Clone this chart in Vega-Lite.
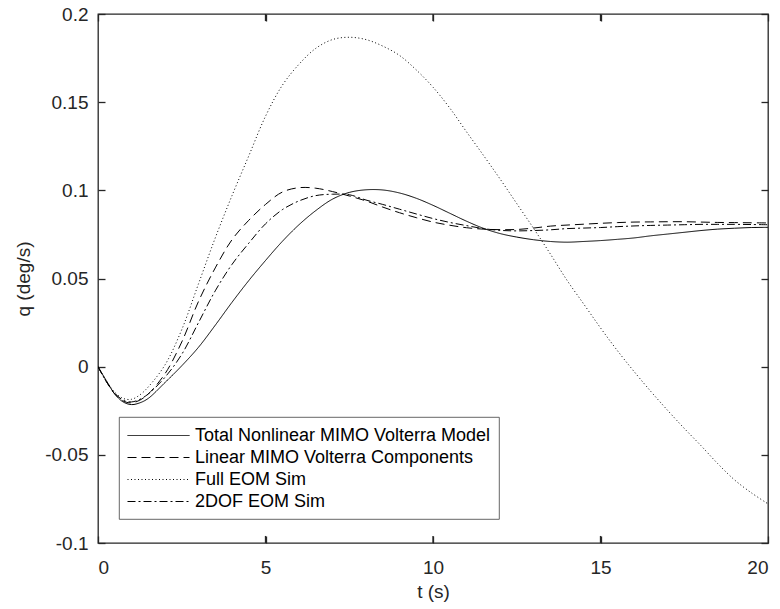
{
  "$schema": "https://vega.github.io/schema/vega-lite/v6.json",
  "width": 670,
  "height": 529,
  "autosize": {"type": "none"},
  "padding": {"left": 98, "top": 14, "right": 12, "bottom": 66},
  "background": "white",
  "datasets": {
    "curves": [
    {"t": 0, "Total Nonlinear MIMO Volterra Model": 0, "Linear MIMO Volterra Components": 0, "Full EOM Sim": 0, "2DOF EOM Sim": 0},
    {"t": 0.25, "Total Nonlinear MIMO Volterra Model": -0.008, "Linear MIMO Volterra Components": -0.0085, "Full EOM Sim": -0.008, "2DOF EOM Sim": -0.0085},
    {"t": 0.5, "Total Nonlinear MIMO Volterra Model": -0.0155, "Linear MIMO Volterra Components": -0.0155, "Full EOM Sim": -0.0145, "2DOF EOM Sim": -0.015},
    {"t": 0.75, "Total Nonlinear MIMO Volterra Model": -0.02, "Linear MIMO Volterra Components": -0.0195, "Full EOM Sim": -0.018, "2DOF EOM Sim": -0.019},
    {"t": 1.0, "Total Nonlinear MIMO Volterra Model": -0.0215, "Linear MIMO Volterra Components": -0.0205, "Full EOM Sim": -0.0185, "2DOF EOM Sim": -0.02},
    {"t": 1.25, "Total Nonlinear MIMO Volterra Model": -0.0205, "Linear MIMO Volterra Components": -0.019, "Full EOM Sim": -0.016, "2DOF EOM Sim": -0.0185},
    {"t": 1.5, "Total Nonlinear MIMO Volterra Model": -0.018, "Linear MIMO Volterra Components": -0.0155, "Full EOM Sim": -0.0115, "2DOF EOM Sim": -0.0155},
    {"t": 2.0, "Total Nonlinear MIMO Volterra Model": -0.009, "Linear MIMO Volterra Components": -0.004, "Full EOM Sim": 0.001, "2DOF EOM Sim": -0.006},
    {"t": 2.5, "Total Nonlinear MIMO Volterra Model": 0.0005, "Linear MIMO Volterra Components": 0.014, "Full EOM Sim": 0.021, "2DOF EOM Sim": 0.007},
    {"t": 3.0, "Total Nonlinear MIMO Volterra Model": 0.0110, "Linear MIMO Volterra Components": 0.037, "Full EOM Sim": 0.047, "2DOF EOM Sim": 0.025},
    {"t": 3.5, "Total Nonlinear MIMO Volterra Model": 0.0235, "Linear MIMO Volterra Components": 0.056, "Full EOM Sim": 0.073, "2DOF EOM Sim": 0.043},
    {"t": 4.0, "Total Nonlinear MIMO Volterra Model": 0.0365, "Linear MIMO Volterra Components": 0.072, "Full EOM Sim": 0.097, "2DOF EOM Sim": 0.058},
    {"t": 4.5, "Total Nonlinear MIMO Volterra Model": 0.0488, "Linear MIMO Volterra Components": 0.083, "Full EOM Sim": 0.1195, "2DOF EOM Sim": 0.07},
    {"t": 5.0, "Total Nonlinear MIMO Volterra Model": 0.0602, "Linear MIMO Volterra Components": 0.092, "Full EOM Sim": 0.142, "2DOF EOM Sim": 0.081},
    {"t": 5.5, "Total Nonlinear MIMO Volterra Model": 0.0710, "Linear MIMO Volterra Components": 0.099, "Full EOM Sim": 0.1595, "2DOF EOM Sim": 0.089},
    {"t": 6.0, "Total Nonlinear MIMO Volterra Model": 0.0805, "Linear MIMO Volterra Components": 0.1015, "Full EOM Sim": 0.1715, "2DOF EOM Sim": 0.094},
    {"t": 6.5, "Total Nonlinear MIMO Volterra Model": 0.0885, "Linear MIMO Volterra Components": 0.1012, "Full EOM Sim": 0.1805, "2DOF EOM Sim": 0.097},
    {"t": 7.0, "Total Nonlinear MIMO Volterra Model": 0.0950, "Linear MIMO Volterra Components": 0.0993, "Full EOM Sim": 0.1855, "2DOF EOM Sim": 0.0978},
    {"t": 7.5, "Total Nonlinear MIMO Volterra Model": 0.0988, "Linear MIMO Volterra Components": 0.0968, "Full EOM Sim": 0.1868, "2DOF EOM Sim": 0.0975},
    {"t": 8.0, "Total Nonlinear MIMO Volterra Model": 0.1003, "Linear MIMO Volterra Components": 0.094, "Full EOM Sim": 0.1855, "2DOF EOM Sim": 0.0945},
    {"t": 8.5, "Total Nonlinear MIMO Volterra Model": 0.1002, "Linear MIMO Volterra Components": 0.0905, "Full EOM Sim": 0.1818, "2DOF EOM Sim": 0.092},
    {"t": 9.0, "Total Nonlinear MIMO Volterra Model": 0.0985, "Linear MIMO Volterra Components": 0.0873, "Full EOM Sim": 0.1765, "2DOF EOM Sim": 0.0893},
    {"t": 9.5, "Total Nonlinear MIMO Volterra Model": 0.0955, "Linear MIMO Volterra Components": 0.0845, "Full EOM Sim": 0.1683, "2DOF EOM Sim": 0.0866},
    {"t": 10.0, "Total Nonlinear MIMO Volterra Model": 0.0915, "Linear MIMO Volterra Components": 0.082, "Full EOM Sim": 0.1585, "2DOF EOM Sim": 0.084},
    {"t": 10.5, "Total Nonlinear MIMO Volterra Model": 0.087, "Linear MIMO Volterra Components": 0.0802, "Full EOM Sim": 0.1467, "2DOF EOM Sim": 0.0818},
    {"t": 11.0, "Total Nonlinear MIMO Volterra Model": 0.0825, "Linear MIMO Volterra Components": 0.0788, "Full EOM Sim": 0.1332, "2DOF EOM Sim": 0.08},
    {"t": 11.5, "Total Nonlinear MIMO Volterra Model": 0.0785, "Linear MIMO Volterra Components": 0.078, "Full EOM Sim": 0.12, "2DOF EOM Sim": 0.0783},
    {"t": 12.0, "Total Nonlinear MIMO Volterra Model": 0.0755, "Linear MIMO Volterra Components": 0.0777, "Full EOM Sim": 0.1065, "2DOF EOM Sim": 0.0773},
    {"t": 12.5, "Total Nonlinear MIMO Volterra Model": 0.0735, "Linear MIMO Volterra Components": 0.0778, "Full EOM Sim": 0.0925, "2DOF EOM Sim": 0.077},
    {"t": 13.0, "Total Nonlinear MIMO Volterra Model": 0.072, "Linear MIMO Volterra Components": 0.0786, "Full EOM Sim": 0.0785, "2DOF EOM Sim": 0.0772},
    {"t": 13.5, "Total Nonlinear MIMO Volterra Model": 0.071, "Linear MIMO Volterra Components": 0.0797, "Full EOM Sim": 0.064, "2DOF EOM Sim": 0.0776},
    {"t": 14.0, "Total Nonlinear MIMO Volterra Model": 0.0706, "Linear MIMO Volterra Components": 0.0803, "Full EOM Sim": 0.049, "2DOF EOM Sim": 0.0783},
    {"t": 14.5, "Total Nonlinear MIMO Volterra Model": 0.071, "Linear MIMO Volterra Components": 0.0808, "Full EOM Sim": 0.0355, "2DOF EOM Sim": 0.0786},
    {"t": 15.0, "Total Nonlinear MIMO Volterra Model": 0.0715, "Linear MIMO Volterra Components": 0.0813, "Full EOM Sim": 0.022, "2DOF EOM Sim": 0.0789},
    {"t": 15.5, "Total Nonlinear MIMO Volterra Model": 0.0722, "Linear MIMO Volterra Components": 0.0817, "Full EOM Sim": 0.0092, "2DOF EOM Sim": 0.0794},
    {"t": 16.0, "Total Nonlinear MIMO Volterra Model": 0.073, "Linear MIMO Volterra Components": 0.082, "Full EOM Sim": -0.0027, "2DOF EOM Sim": 0.0798},
    {"t": 16.5, "Total Nonlinear MIMO Volterra Model": 0.0742, "Linear MIMO Volterra Components": 0.0821, "Full EOM Sim": -0.014, "2DOF EOM Sim": 0.0801},
    {"t": 17.0, "Total Nonlinear MIMO Volterra Model": 0.0752, "Linear MIMO Volterra Components": 0.0822, "Full EOM Sim": -0.0247, "2DOF EOM Sim": 0.0803},
    {"t": 17.5, "Total Nonlinear MIMO Volterra Model": 0.0762, "Linear MIMO Volterra Components": 0.0822, "Full EOM Sim": -0.035, "2DOF EOM Sim": 0.0805},
    {"t": 18.0, "Total Nonlinear MIMO Volterra Model": 0.0772, "Linear MIMO Volterra Components": 0.082, "Full EOM Sim": -0.0448, "2DOF EOM Sim": 0.0807},
    {"t": 18.5, "Total Nonlinear MIMO Volterra Model": 0.078, "Linear MIMO Volterra Components": 0.0818, "Full EOM Sim": -0.055, "2DOF EOM Sim": 0.0807},
    {"t": 19.0, "Total Nonlinear MIMO Volterra Model": 0.0785, "Linear MIMO Volterra Components": 0.0817, "Full EOM Sim": -0.0642, "2DOF EOM Sim": 0.0807},
    {"t": 19.5, "Total Nonlinear MIMO Volterra Model": 0.0789, "Linear MIMO Volterra Components": 0.0816, "Full EOM Sim": -0.0715, "2DOF EOM Sim": 0.0806},
    {"t": 20.0, "Total Nonlinear MIMO Volterra Model": 0.079, "Linear MIMO Volterra Components": 0.0815, "Full EOM Sim": -0.0778, "2DOF EOM Sim": 0.0805}
    ],
    "xticks": [{"t": 5}, {"t": 10}, {"t": 15}]
  },
  "layer": [
    {
      "data": {"name": "curves"},
      "transform": [
        {"fold": ["Total Nonlinear MIMO Volterra Model", "Linear MIMO Volterra Components", "Full EOM Sim", "2DOF EOM Sim"], "as": ["series", "q"]}
      ],
      "mark": {"type": "line", "strokeWidth": 1, "color": "black", "interpolate": "catmull-rom", "clip": true},
      "encoding": {
        "x": {"field": "t", "type": "quantitative", "scale": {"domain": [0, 20], "nice": false, "zero": false},
          "axis": {"orient": "bottom", "values": [0, 5, 10, 15, 20], "title": "t (s)", "labelPadding": 15, "titlePadding": 5}},
        "y": {"field": "q", "type": "quantitative", "scale": {"domain": [-0.1, 0.2], "nice": false, "zero": false},
          "axis": {"orient": "left", "values": [-0.1, -0.05, 0, 0.05, 0.1, 0.15, 0.2], "title": "q (deg/s)", "labelPadding": 10, "titlePadding": 11,
            "labelExpr": "datum.value < 0 ? '-' + format(-datum.value, '~g') : format(datum.value, '~g')"}},
        "strokeDash": {"field": "series", "type": "nominal",
          "scale": {"domain": ["Total Nonlinear MIMO Volterra Model", "Linear MIMO Volterra Components", "Full EOM Sim", "2DOF EOM Sim"],
            "range": [[1, 0], [9, 5], [1, 2.5], [8, 3, 2, 3]]},
          "legend": {"orient": "none", "legendX": 21, "legendY": 403, "title": null}}
      }
    },
    {
      "data": {"name": "curves"},
      "transform": [
        {"fold": ["Total Nonlinear MIMO Volterra Model", "Linear MIMO Volterra Components", "Full EOM Sim", "2DOF EOM Sim"], "as": ["series", "q"]}
      ],
      "mark": {"type": "line", "opacity": 0},
      "encoding": {
        "x": {"field": "t", "type": "quantitative", "scale": {"domain": [0, 20], "nice": false, "zero": false},
          "axis": {"orient": "top", "values": [0, 5, 10, 15, 20], "labels": false, "title": null}},
        "y": {"field": "q", "type": "quantitative", "scale": {"domain": [-0.1, 0.2], "nice": false, "zero": false},
          "axis": {"orient": "right", "values": [-0.1, -0.05, 0, 0.05, 0.1, 0.15, 0.2], "labels": false, "title": null}},
        "detail": {"field": "series", "type": "nominal"}
      }
    },
    {
      "data": {"name": "xticks"},
      "mark": {"type": "rule", "color": "#262626", "strokeWidth": 1.3},
      "encoding": {
        "x": {"field": "t", "type": "quantitative", "axis": null},
        "y": {"datum": -0.1, "axis": null},
        "y2": {"datum": -0.096}
      }
    },
    {
      "data": {"name": "xticks"},
      "mark": {"type": "rule", "color": "#262626", "strokeWidth": 1.3},
      "encoding": {
        "x": {"field": "t", "type": "quantitative", "axis": null},
        "y": {"datum": 0.2, "axis": null},
        "y2": {"datum": 0.196}
      }
    }
  ],
  "resolve": {"axis": {"x": "independent", "y": "independent"}},
  "config": {
    "view": {"stroke": "#262626", "strokeWidth": 1.3},
    "axis": {
      "grid": false,
      "domain": false, "offset": -7,
      "ticks": true, "tickColor": "#262626", "tickWidth": 1.3, "tickSize": 7,
      "labelFont": "Liberation Sans", "labelFontSize": 19, "labelColor": "#262626",
      "titleFont": "Liberation Sans", "titleFontSize": 19, "titleFontWeight": "normal", "titleColor": "#262626"
    },
    "legend": {
      "symbolType": "M-1,0H5.2", "symbolSize": 400, "symbolStrokeWidth": 1, "symbolStrokeColor": "black", "symbolFillColor": "transparent",
      "labelFont": "Liberation Sans", "labelFontSize": 18, "labelColor": "black", "labelOffset": 47,
      "strokeColor": "#404040", "strokeWidth": 0.8, "fillColor": "white", "padding": 8, "rowPadding": 2,
      "labelLimit": 400
    }
  }
}
